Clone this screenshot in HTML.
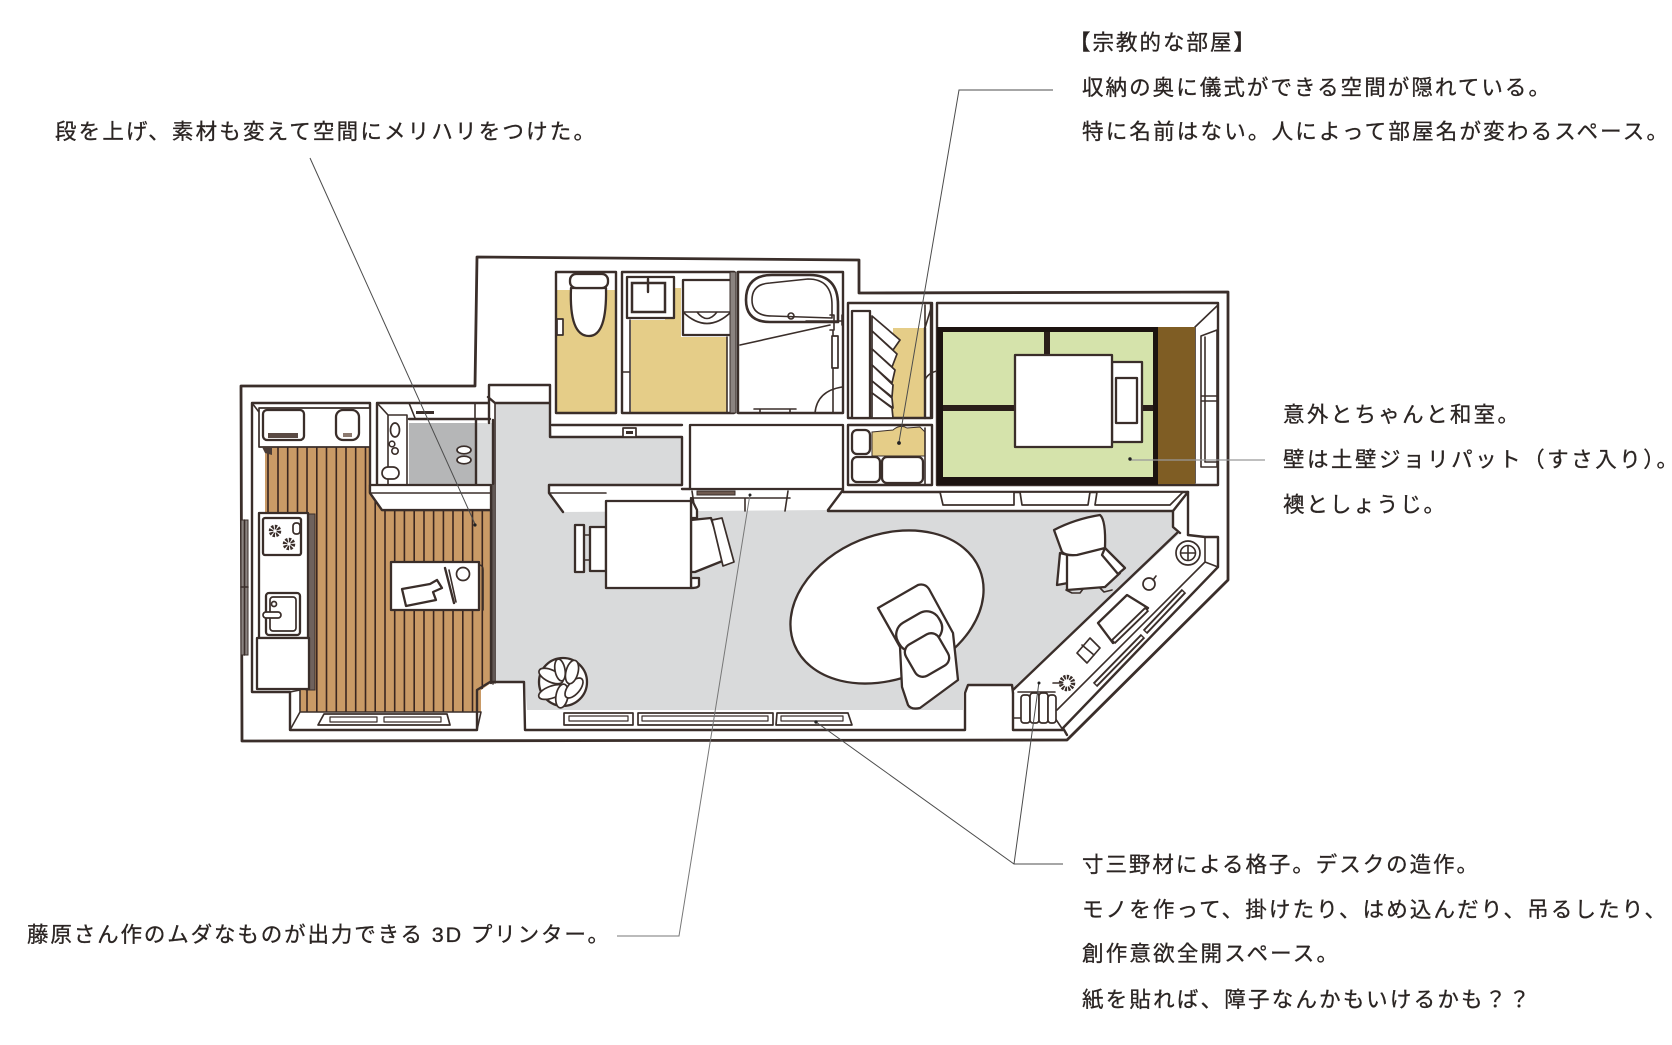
<!DOCTYPE html>
<html lang="ja"><head><meta charset="utf-8"><title>間取り図</title>
<style>
html,body{margin:0;padding:0;background:#fff}
svg{display:block}
text{font-family:"Liberation Sans","Noto Sans CJK JP",sans-serif;font-size:21.5px;fill:#2b2523;stroke:#2b2523;stroke-width:.3}
.l{fill:none;stroke:#3a2e2a;stroke-width:2.4;stroke-linejoin:round;stroke-linecap:round}
.t{fill:none;stroke:#3a2e2a;stroke-width:1.6;stroke-linejoin:round;stroke-linecap:round}
.w{fill:#fff;stroke:#3a2e2a;stroke-width:2.3;stroke-linejoin:round}
.wt{fill:#fff;stroke:#3a2e2a;stroke-width:1.7;stroke-linejoin:round}
.lead{fill:none;stroke:#4c4c4c;stroke-width:1}
</style></head><body>
<svg xmlns="http://www.w3.org/2000/svg" width="1672" height="1045" viewBox="0 0 1672 1045">
<defs>
<clipPath id="wc"><polygon points="265,447 370,447 370,493 382,510 491,510 491,683 481,690 481,712 300,712 300,690 265,690"/></clipPath>
</defs>
<rect width="1672" height="1045" fill="#fff"/>

<!-- outer wall -->
<polygon class="l" style="stroke-width:2.800" points="241,386 475,386 477,257 859,260 859,293 1228,292 1228,580 1067,740 242,741"/>

<!-- living floor -->
<polygon fill="#d9dadb" points="495,403 550,403 552,437 682,437 682,485 549,485 549,493 563,512 828,510 1173,510 1173,527 1180,533 1013,690 1012,685 968,685 963,693 963,710 527,710 525,682 495,682"/>
<!-- wood floor -->
<g clip-path="url(#wc)">
<rect x="260" y="440" width="240" height="280" fill="#c99a66"/>
<path d="M268 440V720M278 440V720M287.700 440V720M297.500 440V720M307 440V720M316.800 440V720M326.500 440V720M336.300 440V720M346 440V720M355.700 440V720M365.500 440V720M375.200 440V720M385 440V720M394.700 440V720M404.400 440V720M414.200 440V720M424 440V720M433.600 440V720M443.400 440V720M453 440V720M462.800 440V720M472.500 440V720M482.300 440V720" stroke="#3a2620" stroke-width="1.600" fill="none"/>
</g>

<!-- kitchen walls -->
<path class="l" d="M252,403 H370 V493 L382,510 H491 V683 M252,403 V692 H290 V730 H477 V690 L490,682 H524 L525,730 H965 V693 L968,685 H1012 L1013,693"/>
<path class="t" d="M252,403 L265,420 M290,692 L300,690 V712 H481 M290,730 L300,712 M477,730 L481,712"/>
<!-- upper counter -->
<rect class="wt" x="259" y="408" width="111" height="39"/>
<rect class="w" x="263" y="410" width="41" height="30" rx="4"/>
<rect x="268" y="433" width="30" height="5" fill="#5a4a44"/>
<rect class="w" x="336" y="410" width="23" height="30" rx="7"/>
<rect x="343" y="433" width="9" height="4" fill="#8c7a70"/>
<path d="M262,447 L272,447 L272,455 L265,453Z" fill="#4a3c36"/>
<!-- kitchen counter -->
<rect x="306" y="514" width="9" height="176" fill="#6f625d" stroke="#3a2e2a"/>
<rect class="w" x="259" y="513" width="49" height="125"/>
<rect class="w" x="263" y="518" width="38" height="37" rx="2"/>
<circle cx="275" cy="531" r="4" fill="#fff" stroke="#3a2e2a" stroke-width="4.500" stroke-dasharray="2 1.100"/>
<circle cx="289" cy="544" r="4" fill="#fff" stroke="#3a2e2a" stroke-width="4.500" stroke-dasharray="2 1.100"/>
<rect class="wt" x="293" y="523" width="7" height="11" rx="3"/>
<rect class="w" x="266" y="593" width="34" height="42" rx="3"/>
<rect class="wt" x="270" y="597" width="26" height="34" rx="3"/>
<rect class="wt" x="263" y="612" width="18" height="6" rx="3"/>
<circle cx="274" cy="604" r="2.500" class="wt"/>
<rect class="w" x="257" y="638" width="52" height="51"/>
<!-- left window -->
<rect x="241" y="520" width="7" height="135" fill="#8a8380" stroke="#3a2e2a"/>
<path class="t" d="M244.500 520V655M241,587H248"/>
<!-- washroom -->
<polygon fill="#b5b6b7" points="409,423 477,423 477,484 409,484"/>
<rect x="477" y="423" width="16" height="61" fill="#d9dadb"/>
<path class="l" d="M377,485 V403 H488 M409,419 H490 M476,419 V484 M493,420 V484"/>
<path class="t" d="M377,403 L388,415 H407 V484 M388,415 V484 M409,403 L415,418 M475,403 V418"/>
<rect x="416" y="411" width="18" height="3" fill="#3a2e2a"/>
<ellipse class="wt" cx="395" cy="430" rx="4.500" ry="7"/>
<circle class="t" cx="392" cy="444" r="2.800"/><circle class="t" cx="395" cy="451" r="3.200"/>
<rect class="wt" x="382" y="467" width="17" height="12" rx="6"/>
<ellipse class="wt" cx="464" cy="450" rx="7" ry="3.800"/><ellipse class="wt" cx="464" cy="460" rx="7" ry="3.800"/>
<polygon class="w" points="370,485 491,485 491,510 382,510 370,493"/>
<path class="t" d="M370,493 H491"/>
<path class="t" d="M493,484 V684 M495,403 V683"/>
<!-- entry wall -->
<path class="l" d="M489,423 V385 H550 V437 H682 V485 M550,403 H495 L488,397 M552,425 H682 M549,485 H682 M549,485 V493 L563,512"/>
<path class="t" d="M549,493 H606"/>
<rect class="wt" x="623" y="428" width="13" height="9"/><rect x="626" y="431" width="7" height="3" fill="#3a2e2a"/>
<!-- toilet -->
<rect x="557" y="290" width="58" height="123" fill="#e5cd88"/>
<rect class="l" x="556" y="272" width="60" height="141"/>
<path class="w" d="M571,288 Q569,336 589,336 Q607,336 606,288Z"/>
<rect class="w" x="570" y="274" width="38" height="14" rx="6"/>
<rect class="wt" x="557" y="319" width="6" height="16"/>
<!-- wash -->
<polygon fill="#e5cd88" points="631,320 665,320 665,288 681,288 681,337 727,337 727,413 631,413"/>
<rect class="l" x="622" y="272" width="112" height="141"/>
<path class="t" d="M630,320 V413 M622,372 H630 M727,337 V413"/>
<rect class="w" x="627" y="277" width="47" height="41" />
<rect x="632" y="283" width="33" height="29" fill="#fff" stroke="#3a2e2a" stroke-width="2.500"/>
<path class="l" d="M648,279V292"/>
<rect class="w" x="683" y="280" width="48" height="55"/>
<path class="t" d="M683,312 H731 M683,312 Q707,335 731,312 M697,312 Q707,325 717,312"/>
<rect x="730" y="272" width="6" height="141" fill="#8b8380" stroke="#3a2e2a"/>
<!-- bath -->
<rect class="l" x="738" y="272" width="105" height="141"/>
<path class="l" style="stroke-width:2.600" d="M746,300 Q746,275 772,275 H810 Q838,275 838,305 V322 L770,322 Q746,322 746,300Z"/>
<path class="t" d="M752,300 Q752,284 770,283 L808,279 Q832,279 832,305 V318 L772,316 Q752,316 752,300Z"/>
<circle class="t" cx="791" cy="316" r="3"/>
<path class="t" d="M740,345 L830,325 M806,321 H842 M842,315 V325 M830,315 H834 V330 H830 M833,331 V413"/>
<rect class="wt" x="832" y="336" width="6" height="32"/>
<path class="t" d="M815,413 Q817,391 842,387 M754,409 H796 M760,409 V413 M790,409 V413"/>

<!-- storage -->
<rect x="893" y="328" width="32" height="90" fill="#e5cd88"/>
<rect class="l" x="848" y="303" width="83" height="115"/>
<path class="l" d="M925,328 V418 M932,303 V418"/>
<path class="t" d="M925,305 L925,328 L932,305 M925,380 Q928,373 937,371"/>
<rect class="w" x="852" y="311" width="18" height="107"/>
<g class="wt">
<polygon points="872,316 900,340 893,350 872,331"/>
<polygon points="872,331 897,354 892,367 872,349"/>
<polygon points="872,349 895,370 892,383 872,365"/>
<polygon points="872,365 893,385 892,397 872,381"/>
<polygon points="872,381 892,398 893,408 872,393"/>
<polygon points="872,393 892,408 893,418 872,418"/>
</g>
<rect class="l" x="848" y="425" width="84" height="60"/>
<path d="M872,432 L893,430 Q900,424 907,428 L920,427 L925,432 V456 H872Z" fill="#e5cd88" stroke="#3a2e2a" stroke-width="1"/>
<path class="t" d="M925,428 V485"/>
<rect class="w" x="852" y="430" width="18" height="24" rx="5"/>
<rect class="w" x="852" y="457" width="28" height="25" rx="5"/>
<rect class="w" x="882" y="457" width="41" height="26" rx="5"/>

<!-- washitsu -->
<path class="l" d="M937,485 V303 H1218 V485 H937"/>
<path class="t" d="M1195,327 L1218,305 M1195,483 V327"/>
<rect x="937" y="327" width="221" height="158" fill="#1c1310"/>
<rect x="943" y="332" width="210" height="145" fill="#d5e3ab"/>
<rect x="1044" y="332" width="6" height="26" fill="#2b1f1a"/>
<rect x="943" y="405" width="75" height="6" fill="#2b1f1a"/>
<rect x="1140" y="405" width="13" height="6" fill="#2b1f1a"/>
<rect x="1158" y="327" width="37" height="157" fill="#7f5d24"/>
<rect class="w" x="1112" y="362" width="30" height="80"/>
<rect class="w" x="1116" y="378" width="21" height="45"/>
<rect class="w" x="1015" y="355" width="97" height="92"/>
<path class="t" d="M1201,336 L1217,330 V467 H1201 Z M1205,337 V462 H1217 M1201,396 H1217 M1201,401 H1217"/>

<!-- printer cabinet -->
<rect class="w" x="690" y="425" width="153" height="64"/>
<path class="l" d="M690,489 L682,489 M843,490 L828,510 M843,492 H1188 V535 M828,511 H1173"/>
<rect x="697" y="491" width="38" height="4" fill="#6f5a50" stroke="#3a2e2a" stroke-width="1"/>
<path class="t" d="M691,498 H790 M745,498 V511 M788,491 L785,511 M692,491 L695,511"/>
<polygon class="wt" points="940,492 1014,492 1014,505 943,505"/>
<polygon class="wt" points="1020,492 1090,492 1088,505 1022,505"/>
<polygon class="wt" points="1097,492 1183,492 1170,505 1095,505"/>
<path class="l" d="M1173,511 V527 L1180,533 M1173,511 L1188,492"/>
<!-- dining table -->
<rect class="w" x="575" y="525" width="9" height="47"/>
<rect class="w" x="590" y="527" width="16" height="44"/>
<path class="t" d="M584,535 H590 M584,560 H590"/>
<polygon class="w" points="691,520 711,518 725,560 695,572 691,572"/>
<polygon class="wt" points="712,520 722,518 734,562 723,566"/>
<path class="w" d="M691,498 L697,510 V518 H691Z M691,578 H699 V585 Q699,588 691,588Z"/>
<rect class="w" x="606" y="501" width="85" height="87"/>
<!-- island -->
<rect class="w" x="391" y="562" width="88" height="48"/>
<path class="t" d="M479,565 Q483,565 483,570 V610"/>
<path class="w" d="M402,589 L430,584 L437,580 L442,588 L433,592 L436,600 L406,606Z"/>
<path class="l" d="M445,568 L454,603"/><path class="t" d="M449,570 L456,602"/>
<circle class="wt" cx="463" cy="574" r="6.500"/>
<!-- plant -->
<circle class="w" cx="563" cy="682" r="24"/>
<g>
<ellipse class="wt" cx="551" cy="676" rx="13" ry="6" transform="rotate(25 551 676)"/>
<ellipse class="wt" cx="552" cy="692" rx="14" ry="6" transform="rotate(-20 552 692)"/>
<ellipse class="wt" cx="562" cy="696" rx="6" ry="12" transform="rotate(10 562 696)"/>
<ellipse class="wt" cx="574" cy="688" rx="12" ry="6" transform="rotate(-50 574 688)"/>
<ellipse class="wt" cx="572" cy="672" rx="6" ry="12" transform="rotate(15 572 672)"/>
<ellipse class="wt" cx="560" cy="670" rx="5" ry="11" transform="rotate(-10 560 670)"/>
</g>
<!-- bottom sills -->
<polygon class="wt" points="324,714 447,714 450,725 318,725"/>
<rect class="wt" x="564" y="713" width="69" height="12"/><rect class="wt" x="638" y="713" width="135" height="12"/>
<polygon class="wt" points="777,713 848,713 852,725 776,725"/>
<path class="t" style="stroke-width:1.200" d="M330,717 H377 V722 H330Z M384,717 H441 V722 H384Z M569,716 H628 V721 H569Z M642,716 H768 V721 H642Z M781,716 H843 V721 H781Z"/>

<!-- rug & sofa -->
<ellipse class="w" cx="887" cy="607" rx="100" ry="72" transform="rotate(-22 887 607)"/>
<path class="w" d="M878,608 L918,585 Q925,583 929,589 L953,633 L958,680 L920,708 Q911,710 908,705 L902,687 L900,647Z"/>
<rect class="w" x="896" y="616" width="47" height="31" rx="14" transform="rotate(-30 919 632)"/>
<rect class="w" x="908" y="637" width="38" height="36" rx="9" transform="rotate(-30 927 655)"/>
<!-- armchair -->
<polygon class="w" points="1060,553 1068,555 1068,583 1057,585"/>
<polygon class="w" points="1067,555 1105,548 1120,573 1105,587 1067,590"/>
<path class="t" d="M1066,590 L1072,593 H1080 L1083,589 M1100,588 L1104,592 L1112,590"/>
<polygon class="w" points="1105,548 1125,568 1118,574 1102,555"/>
<path class="w" d="M1054,530 Q1075,519 1100,515 Q1106,520 1105,548 L1077,555 Q1066,556 1062,552Z"/>

<!-- desk -->
<path class="l" d="M1177,533 L1013,690 M1188,535 L1205,537 H1218 V567 L1063,728 L1067,735 M1013,693 V730 H1063"/>
<path class="t" d="M1205,537 V562 L1057,710 M1205,562 L1218,567 M1013,718 H1055 L1063,730"/>
<circle class="wt" cx="1188" cy="553" r="12"/><circle class="t" cx="1188" cy="553" r="7.500"/><path class="t" d="M1181,553H1195M1188,546V560"/>
<circle class="wt" cx="1149" cy="584" r="6"/><path class="t" d="M1153,580L1156,576"/>
<polygon class="w" points="1098,623 1127,595 1148,608 1113,643"/>
<path fill="none" stroke="#3a2e2a" stroke-width="6" d="M1113,642 L1147,609"/><path stroke="#fff" stroke-width="2.200" d="M1114,641 L1146,610"/>
<path fill="none" stroke="#3a2e2a" stroke-width="6" d="M1095,685 L1143,636"/><path stroke="#fff" stroke-width="2.200" d="M1096,684 L1142,637"/>
<path fill="none" stroke="#3a2e2a" stroke-width="6" d="M1145,632 L1184,591"/><path stroke="#fff" stroke-width="2.200" d="M1146,631 L1183,592"/>
<polygon class="wt" points="1077,653 1090,638 1100,648 1087,663"/><path class="t" d="M1082,645 L1094,655"/>
<circle cx="1067" cy="683" r="6" fill="#fff" stroke="#3a2e2a" stroke-width="4.500" stroke-dasharray="2 1.100"/>
<path class="t" d="M1053,683 H1062"/>
<rect class="wt" x="1021" y="695" width="9" height="28" rx="3"/><rect class="wt" x="1030" y="693" width="9" height="30" rx="3"/><rect class="wt" x="1039" y="693" width="9" height="30" rx="3"/><rect class="wt" x="1048" y="695" width="8" height="28" rx="3"/>
<path class="t" d="M1018,692 H1055"/>

<!-- leaders -->
<path class="lead" d="M310,158 L475,524"/><circle cx="475" cy="525" r="1.600" fill="#222"/>
<path class="lead" d="M1053,90 H959 L899,442"/><circle cx="899" cy="443" r="1.900" fill="#222"/>
<path class="lead" style="stroke:#999;stroke-width:1.300" d="M1265,460 H1130"/><circle cx="1130" cy="459" r="1.700" fill="#222"/>
<path class="lead" style="stroke:#777" d="M617,936 H679 L750,494"/><circle cx="750" cy="495" r="1.500" fill="#222"/>
<path class="lead" d="M1063,864 H1014 L816,722 M1014,864 L1039,682"/><circle cx="816" cy="722" r="1.700" fill="#222"/><circle cx="1039" cy="683" r="1.500" fill="#222"/>

<!-- labels -->
<text x="1069" y="50" textLength="186" lengthAdjust="spacing">【宗教的な部屋】</text>
<text x="1082" y="95" textLength="468" lengthAdjust="spacing">収納の奥に儀式ができる空間が隠れている。</text>
<text x="1082" y="139" textLength="586" lengthAdjust="spacing">特に名前はない。人によって部屋名が変わるスペース。</text>
<text x="55" y="139" textLength="540" lengthAdjust="spacing">段を上げ、素材も変えて空間にメリハリをつけた。</text>
<text x="1283" y="422" textLength="236" lengthAdjust="spacing">意外とちゃんと和室。</text>
<text x="1283" y="467" textLength="395" lengthAdjust="spacing">壁は土壁ジョリパット（すさ入り）。</text>
<text x="1283" y="512" textLength="162" lengthAdjust="spacing">襖としょうじ。</text>
<text x="1082" y="872" textLength="396" lengthAdjust="spacing">寸三野材による格子。デスクの造作。</text>
<text x="1082" y="917" textLength="584" lengthAdjust="spacing">モノを作って、掛けたり、はめ込んだり、吊るしたり、</text>
<text x="1082" y="961" textLength="256" lengthAdjust="spacing">創作意欲全開スペース。</text>
<text x="1082" y="1007" textLength="448" lengthAdjust="spacing">紙を貼れば、障子なんかもいけるかも？？</text>
<text x="27" y="942" textLength="582" lengthAdjust="spacing">藤原さん作のムダなものが出力できる 3D プリンター。</text>
</svg>
</body></html>
